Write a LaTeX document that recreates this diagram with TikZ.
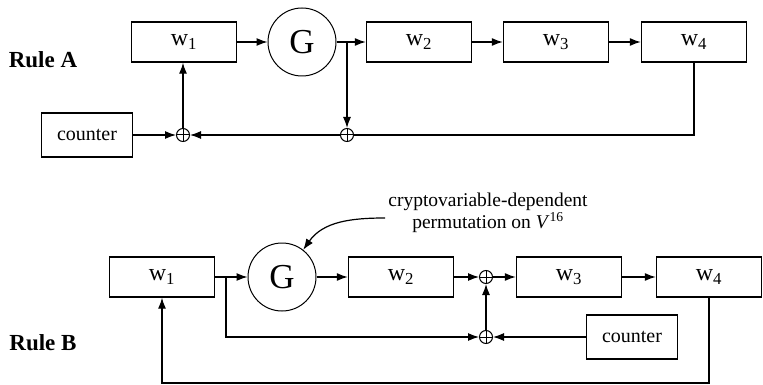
\documentclass[tikz,border=0pt]{standalone}
\usepackage{fontspec}
\setmainfont{Liberation Serif}
\usetikzlibrary{arrows.meta}
\begin{document}
\begin{tikzpicture}[x=1pt,y=-1pt]
	\tikzstyle{every node}+=[inner sep=0pt]
	\tikzstyle{reg}=[draw, line width=1.4pt, minimum width=105pt, minimum height=40pt, font=\fontsize{24}{26}\selectfont]
	\tikzstyle{perm}=[draw, circle, line width=1pt, minimum size=68pt, font=\fontsize{35}{38}\selectfont]
	\tikzstyle{xor}=[draw, circle, line width=1pt, minimum size=13pt, path picture={\draw[line width=1pt] (path picture bounding box.north) -- (path picture bounding box.south) (path picture bounding box.west) -- (path picture bounding box.east);}]
	\tikzstyle{cnt}=[draw, line width=1.4pt, minimum width=91pt, minimum height=44pt, font=\fontsize{20}{22}\selectfont]
	\tikzstyle{lbl}=[font=\bfseries\fontsize{23}{25}\selectfont]
	\tikzstyle{wire}=[line width=1.2pt]
	\tikzstyle{arr}=[wire, -{Latex[length=11pt,width=8pt]}]
	\useasboundingbox (0,0) rectangle (763,385);
	\node [lbl] (ruleA) at (43,60) {Rule A};
	\node [reg] (wa1) at (184,42) {w\textsubscript{1}};
	\node [perm] (ga) at (302,42) {G};
	\node [reg] (wa2) at (419,42) {w\textsubscript{2}};
	\node [reg] (wa3) at (556,42) {w\textsubscript{3}};
	\node [reg] (wa4) at (694,42) {w\textsubscript{4}};
	\node [cnt] (cnta) at (87,135) {counter};
	\node [xor] (xa1) at (183,135) {};
	\node [xor] (xa2) at (347,135) {};
	\coordinate (ta) at (347,42);
	\draw [arr] (wa1) -- (ga);
	\draw [arr] (ga) -- (wa2);
	\draw [arr] (wa2) -- (wa3);
	\draw [arr] (wa3) -- (wa4);
	\draw [arr] (ta) -- (xa2);
	\draw [arr] (cnta) -- (xa1);
	\draw [arr] (xa1) -- (xa1 |- wa1.south);
	\draw [wire] (wa4) -- (wa4 |- xa2) -- (xa2);
	\draw [arr] (xa2) -- (xa1);
	\node [lbl] (ruleB) at (43,343) {Rule B};
	\node [reg] (wb1) at (162,277) {w\textsubscript{1}};
	\node [perm] (gb) at (282,277) {G};
	\node [reg] (wb2) at (401,277) {w\textsubscript{2}};
	\node [xor] (xb1) at (486,277) {};
	\node [reg] (wb3) at (569,277) {w\textsubscript{3}};
	\node [reg] (wb4) at (709,277) {w\textsubscript{4}};
	\node [xor] (xb2) at (486,337) {};
	\node [cnt] (cntb) at (632,337) {counter};
	\node [font=\fontsize{19.5}{19}\selectfont, align=center] (note) at (488,213) {cryptovariable-dependent\\permutation on \textit{V}\textsuperscript{16}};
	\coordinate (tb) at (226,277);
	\coordinate (bb) at (0,383);
	\draw [arr] (wb1) -- (gb);
	\draw [arr] (gb) -- (wb2);
	\draw [arr] (wb2) -- (xb1);
	\draw [arr] (xb1) -- (wb3);
	\draw [arr] (wb3) -- (wb4);
	\draw [arr] (tb) |- (xb2);
	\draw [arr] (cntb) -- (xb2);
	\draw [arr] (xb2) -- (xb1);
	\draw [arr] (wb4.south) -- (wb4.south |- bb) -| (wb1.south);
	\draw [arr] ([shift={(-3,5)}]note.west) to[out=180,in=55] (gb.52);
\end{tikzpicture}
\end{document}
